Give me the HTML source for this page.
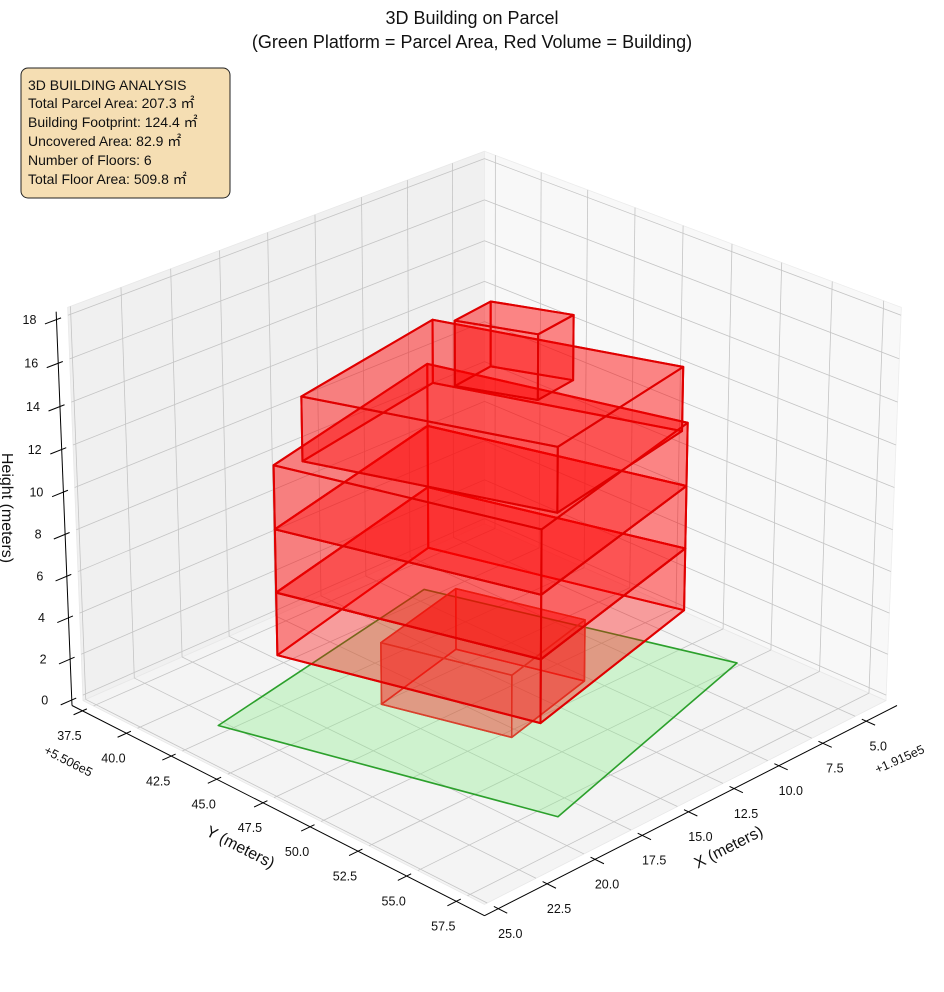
<!DOCTYPE html>
<html><head><meta charset="utf-8"><style>
html,body{margin:0;padding:0;background:#fff;}
svg{display:block;font-family:"Liberation Sans",sans-serif;}
</style></head><body>
<svg id="chart" width="944" height="992" viewBox="0 0 944 992" xmlns="http://www.w3.org/2000/svg">
<g id="panes"></g>
<g id="grid"></g>
<g id="axes"></g>
<g id="marks"></g>
<text x="472" y="24" text-anchor="middle" font-size="18" fill="#111">3D Building on Parcel</text>
<text x="472" y="48" text-anchor="middle" font-size="18" fill="#111">(Green Platform = Parcel Area, Red Volume = Building)</text>
<g>
<rect x="21" y="68" width="209" height="130" rx="7" fill="#f5deb3" stroke="#222" stroke-width="1"/>
<text x="28" y="90" font-size="14" fill="#111">3D BUILDING ANALYSIS</text>
<text x="28" y="108" font-size="14" fill="#111">Total Parcel Area: 207.3 ㎡</text>
<text x="28" y="127" font-size="14" fill="#111">Building Footprint: 124.4 ㎡</text>
<text x="28" y="146" font-size="14" fill="#111">Uncovered Area: 82.9 ㎡</text>
<text x="28" y="165" font-size="14" fill="#111">Number of Floors: 6</text>
<text x="28" y="184" font-size="14" fill="#111">Total Floor Area: 509.8 ㎡</text>
</g>
<text x="729" y="848" text-anchor="middle" dominant-baseline="middle" font-size="16" fill="#111" transform="rotate(-27 729 848)">X (meters)</text>
<text x="240" y="848" text-anchor="middle" dominant-baseline="middle" font-size="16" fill="#111" transform="rotate(27 240 848)">Y (meters)</text>
<text x="6" y="508" text-anchor="middle" dominant-baseline="middle" font-size="16" fill="#111" transform="rotate(90 6 508)">Height (meters)</text>
<text x="900" y="760" text-anchor="middle" dominant-baseline="middle" font-size="12.5" fill="#111" transform="rotate(-24 900 760)">+1.915e5</text>
<text x="68" y="762" text-anchor="middle" dominant-baseline="middle" font-size="12.5" fill="#111" transform="rotate(27 68 762)">+5.506e5</text>
</svg>
<script>
const xTicks=[5,7.5,10,12.5,15,17.5,20,22.5,25];
const xTickLabels=["5.0","7.5","10.0","12.5","15.0","17.5","20.0","22.5","25.0"];
const yTicks=[37.5,40,42.5,45,47.5,50,52.5,55,57.5];
const yTickLabels=["37.5","40.0","42.5","45.0","47.5","50.0","52.5","55.0","57.5"];
const zTicks=[0,2,4,6,8,10,12,14,16,18];
const zTickLabels=["0","2","4","6","8","10","12","14","16","18"];
const xLim=[3.2,25.7];
const yLim=[36.9,58.9];
const zLim=[-0.27,18.36];
const parcelX=[23.1,9.5,5.3,19.0];
const parcelY=[42.3,39.7,52.6,56.1];
const floorBase=[0,3,6,9,12,15];
const floorTop=[3,6,9,12,15,18];
const floorFootX=[[17.5,15.85,10.6,12.25],[21.0,17.8,7.3,10.5],[21.0,17.8,7.3,10.5],[21.0,17.8,7.3,10.5],[20.0,16.4,8.0,11.6],[15.3,14.0,11.8,13.1]];
const floorFootY=[[45.4,50.7,49.5,44.2],[43.4,54.05,51.6,40.95],[43.4,54.05,51.6,40.95],[43.4,54.05,51.6,40.95],[43.9,53.5,51.95,42.35],[47.2,50.2,49.9,46.9]];

const NS="http://www.w3.org/2000/svg";
const elev=26*Math.PI/180, azim=45*Math.PI/180, AX=1.167, AZ=0.86, DIST=10;
const Rc=[AX/2,AX/2,AZ/2];
const wv=[Math.cos(elev)*Math.cos(azim),Math.cos(elev)*Math.sin(azim),Math.sin(elev)];
const E=[Rc[0]+DIST*wv[0],Rc[1]+DIST*wv[1],Rc[2]+DIST*wv[2]];
let uv=[-wv[1],wv[0],0];let un=Math.hypot(uv[0],uv[1]);uv=[uv[0]/un,uv[1]/un,0];
const vv=[wv[1]*uv[2]-wv[2]*uv[1],wv[2]*uv[0]-wv[0]*uv[2],wv[0]*uv[1]-wv[1]*uv[0]];
function dot(a,b){return a[0]*b[0]+a[1]*b[1]+a[2]*b[2];}
function raw(x,y,z){
 const p=[(x-xLim[0])/(xLim[1]-xLim[0])*AX,(y-yLim[0])/(yLim[1]-yLim[0])*AX,(z-zLim[0])/(zLim[1]-zLim[0])*AZ];
 const d=[p[0]-E[0],p[1]-E[1],p[2]-E[2]];
 const dep=-dot(d,wv);
 return {X:dot(d,uv)/dep,Y:dot(d,vv)/dep,dep:dep};
}
const PL=raw(xLim[1],yLim[0],zLim[0]), PR=raw(xLim[0],yLim[1],zLim[0]);
const K=(897-72)/(PR.X-PL.X);
const CX=72-K*PL.X, CY=705.5+K*(PL.Y+PR.Y)/2;
function P(x,y,z){const r=raw(x,y,z);return [CX+K*r.X,CY-K*r.Y,r.dep];}
function ptsStr(a){return a.map(p=>p[0].toFixed(2)+","+p[1].toFixed(2)).join(" ");}
function line(g,a,b,col,w,name){
 const l=document.createElementNS(NS,"line");
 l.setAttribute("x1",a[0]);l.setAttribute("y1",a[1]);l.setAttribute("x2",b[0]);l.setAttribute("y2",b[1]);
 l.setAttribute("stroke",col);l.setAttribute("stroke-width",w);
 
 
 g.appendChild(l);return l;
}
function poly(g,pts,fill,stroke,w,name){
 const p=document.createElementNS(NS,"polygon");
 p.setAttribute("points",ptsStr(pts));p.setAttribute("fill",fill);
 p.setAttribute("stroke",stroke);p.setAttribute("stroke-width",w);p.setAttribute("stroke-linejoin","round");
 
 
 g.appendChild(p);return p;
}
function text(g,x,y,s,anchor,name){
 const t=document.createElementNS(NS,"text");
 t.setAttribute("x",x);t.setAttribute("y",y);t.setAttribute("text-anchor",anchor);
 t.setAttribute("dominant-baseline","middle");t.setAttribute("font-size","12.5");t.setAttribute("fill","#111");
 t.textContent=s;
 
 
 g.appendChild(t);return t;
}
const [x0,x1]=xLim,[y0,y1]=yLim,[z0,z1]=zLim;
const rx=x1-x0, ry=y1-y0;
const px1=x1-0.025*rx, py1=y1-0.025*ry;
const panes=document.getElementById("panes");
poly(panes,[P(x0,y0,z0),P(px1,y0,z0),P(px1,y0,z1),P(x0,y0,z1)],"#f0f0f0","#e8e8e8",0.8,"back-left-pane");
poly(panes,[P(x0,y0,z0),P(x0,py1,z0),P(x0,py1,z1),P(x0,y0,z1)],"#f8f8f8","#ececec",0.8,"back-right-pane");
poly(panes,[P(x0,y0,z0),P(px1,y0,z0),P(px1,py1,z0),P(x0,py1,z0)],"#f4f4f4","#e8e8e8",0.8,"floor-pane");
const grid=document.getElementById("grid");const gc="#c4c4c4";
xTicks.forEach(t=>{line(grid,P(t,y0,z0),P(t,py1,z0),gc,0.8,"x-grid-floor");line(grid,P(t,y0,z0),P(t,y0,z1),gc,0.8,"x-grid-wall");});
yTicks.forEach(t=>{line(grid,P(x0,t,z0),P(px1,t,z0),gc,0.8,"y-grid-floor");line(grid,P(x0,t,z0),P(x0,t,z1),gc,0.8,"y-grid-wall");});
zTicks.forEach(t=>{line(grid,P(x0,y0,t),P(px1,y0,t),gc,0.8,"z-grid-left");line(grid,P(x0,y0,t),P(x0,py1,t),gc,0.8,"z-grid-right");});
const axes=document.getElementById("axes");
line(axes,P(x0,y1,z0),P(x1,y1,z0),"#000",1,"x-axis-line");
line(axes,P(x1,y0,z0),P(x1,y1,z0),"#000",1,"y-axis-line");
line(axes,P(x1,y0,z0),P(x1,y0,z1),"#000",1,"z-axis-line");
xTicks.forEach((t,i)=>{const a=P(t,y1,z0);line(axes,P(t,y1-0.01*ry,z0),P(t,y1+0.02*ry,z0),"#000",1,"x-tick");text(axes,a[0]+12,a[1]+26,xTickLabels[i],"middle","x-tick-label");});
yTicks.forEach((t,i)=>{const a=P(x1,t,z0);line(axes,P(x1-0.01*rx,t,z0),P(x1+0.02*rx,t,z0),"#000",1,"y-tick");text(axes,a[0]-13,a[1]+26,yTickLabels[i],"middle","y-tick-label");});
zTicks.forEach((t,i)=>{const a=P(x1,y0,t);line(axes,P(x1-0.01*rx,y0,t),P(x1+0.025*rx,y0,t),"#000",1,"z-tick");text(axes,a[0]-27,a[1]+1,zTickLabels[i],"middle","z-tick-label");});
const marks=document.getElementById("marks");
const parcelPts=parcelX.map((x,i)=>P(x,parcelY[i],0));
poly(marks,parcelPts,"rgba(144,238,144,0.38)","#2ca02c",1.6,"parcel-platform");
const faces=[];
floorBase.forEach((zb,f)=>{
 const zt=floorTop[f], fx=floorFootX[f], fy=floorFootY[f];
 const bot=fx.map((x,i)=>P(x,fy[i],zb)), top=fx.map((x,i)=>P(x,fy[i],zt));
 const col=f===0?"#d8412c":"#e00000", w=f===0?1.5:2;
 for(let i=0;i<4;i++){const j=(i+1)%4;const pts=[bot[i],bot[j],top[j],top[i]];faces.push({pts,col,w,name:"floor-"+(f+1)+"-wall"});}
 faces.push({pts:top,col,w,name:"floor-"+(f+1)+"-roof"});
 faces.push({pts:bot,col,w,name:"floor-"+(f+1)+"-base",base:true});
});
faces.forEach(fc=>{fc.d=fc.pts.reduce((s,p)=>s+p[2],0)/fc.pts.length;});
faces.sort((a,b)=>b.d-a.d);
faces.forEach(fc=>{poly(marks,fc.pts,fc.base?"rgba(255,0,0,0.12)":"rgba(255,0,0,0.27)",fc.col,fc.w,fc.name);});
</script>
</body></html>
